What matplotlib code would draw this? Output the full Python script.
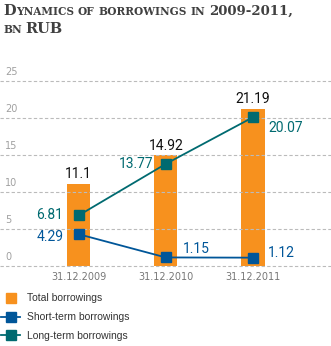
import os
import matplotlib
matplotlib.use("Agg")
import matplotlib.pyplot as plt
from matplotlib.lines import Line2D
from matplotlib import font_manager as fm
import numpy as np

# data
dates = ["31.12.2009", "31.12.2010", "31.12.2011"]
total = [11.1, 14.92, 21.19]
short_term = [4.29, 1.15, 1.12]
long_term = [6.81, 13.77, 20.07]
y_ticks = [0, 5, 10, 15, 20, 25]

ORANGE = "#F7911E"
TEAL = "#006A70"
BLUE = "#005699"
W, H = 331, 346

fig = plt.figure(figsize=(W / 100, H / 100), dpi=100)
ax = fig.add_axes([0, 0.2249, 1, 0.5526])

x = np.arange(len(dates))
ax.set_xlim(-0.9, 2.894)
ax.set_ylim(-0.3, 25.5)

for v in y_ticks:
    ax.axhline(v, color="#BBBBBB", lw=0.8, ls=(0, (3, 2)), zorder=2)
    ax.annotate(str(v), (0, v), xycoords=("axes fraction", "data"),
                xytext=(3.6, 3), textcoords="offset points",
                fontsize=7, color="#A0A0A0", ha="left", va="bottom")

ax.bar(x, total, width=0.264, color=ORANGE, zorder=1)
ax.plot(x, short_term, color=BLUE, lw=1.3, marker="s", ms=6.5, zorder=3, clip_on=False)
ax.plot(x, long_term, color=TEAL, lw=1.3, marker="s", ms=6.5, zorder=3, clip_on=False)

lbl = dict(fontsize=10, family="Roboto", textcoords="offset points")
for i, v in enumerate(total):
    ax.annotate(f"{v:g}", (i, v), xytext=(0, 2), ha="center", va="bottom", color="#111111", **lbl)

# long-term labels
ax.annotate("6.81", (0, long_term[0]), xytext=(-11, 0), ha="right", va="center", color=TEAL, **lbl)
ax.annotate("13.77", (1, long_term[1]), xytext=(-9, 0), ha="right", va="center", color=TEAL, **lbl)
ax.annotate("20.07", (2, long_term[2]), xytext=(11, -8), ha="left", va="center", color=TEAL, **lbl)
# short-term labels
ax.annotate("4.29", (0, short_term[0]), xytext=(-11, -2), ha="right", va="center", color=BLUE, **lbl)
ax.annotate("1.15", (1, short_term[1]), xytext=(12, 6), ha="left", va="center", color=BLUE, **lbl)
ax.annotate("1.12", (2, short_term[2]), xytext=(11, 3), ha="left", va="center", color=BLUE, **lbl)

ax.set_xticks(x, dates)
ax.set_yticks([])
ax.tick_params(axis="x", length=0, pad=3, labelsize=7, labelcolor="#777777")
for s in ax.spines.values():
    s.set_visible(False)
ax.patch.set_alpha(0)

handles = [
    Line2D([], [], ls="none", marker="s", ms=7.5, color=ORANGE),
    Line2D([], [], color=BLUE, lw=1.3, marker="s", ms=6.5),
    Line2D([], [], color=TEAL, lw=1.3, marker="s", ms=6.5),
]
fig.legend(handles, ["Total borrowings", "Short-term borrowings", "Long-term borrowings"],
           loc="upper left", bbox_to_anchor=(0.003, 0.152), frameon=False,
           borderpad=0, borderaxespad=0, handlelength=1.85, handletextpad=0.68,
           labelspacing=0.85, prop={"family": "Liberation Sans", "size": 7.5},
           labelcolor="#333333")

# title in small caps, drawn piece by piece
serif_bold = os.path.join(matplotlib.get_data_path(), "fonts", "ttf", "DejaVuSerif-Bold.ttf")
renderer = fig.canvas.get_renderer()
big, small = 10.5, 7.6
title_lines = [
    [[("D", big), ("YNAMICS", small)], [("OF", small)], [("BORROWINGS", small)],
     [("IN", small)], [("2009-2011,", 9.5)]],
    [[("BN", small)], [("RUB", big)]],
]
baselines = [15, 33]
for words, base in zip(title_lines, baselines):
    xp = 3
    for word in words:
        for txt, size in word:
            fp = fm.FontProperties(fname=serif_bold, size=size)
            t = fig.text(xp / W, 1 - base / H, txt, fontproperties=fp,
                         color="#404040", va="baseline", ha="left")
            xp += t.get_window_extent(renderer).width
        xp += 4

fig.savefig("out.png", dpi=100)
